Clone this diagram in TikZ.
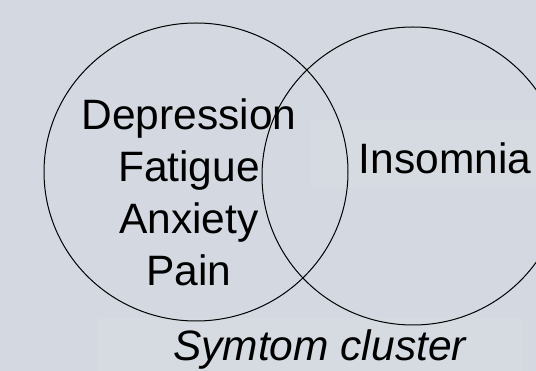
\documentclass[tikz,border=0pt]{standalone}
\usepackage{fontspec}
\setmainfont{Liberation Sans}
\definecolor{bgcol}{HTML}{D3D8E1}
\definecolor{boxcol}{HTML}{D6DAE1}
\begin{document}
\begin{tikzpicture}[x=1pt,y=-1pt,
  lbl/.style={anchor=base, inner sep=0pt, font=\fontsize{42.5}{52}\selectfont, text=black},
  ring/.style={draw=black, line width=1pt},
  panel/.style={fill=boxcol, draw=none}]
\fill[bgcol] (0,0) rectangle (536,371);
\useasboundingbox (0,0) rectangle (536,371);
\fill[panel] (311,120) rectangle (536,188);
\fill[panel] (97,318) rectangle (522,371);
\draw[ring] (196,172) ellipse [x radius=152, y radius=149];
\draw[ring] (413,176) ellipse [x radius=151, y radius=149];
\node[lbl] (dep) at (189,130) {Depression};
\node[lbl] (fat) at (189,182) {Fatigue};
\node[lbl] (anx) at (189,234) {Anxiety};
\node[lbl] (pain) at (189,286) {Pain};
\node[lbl] (ins) at (445,174) {Insomnia};
\node[lbl, font=\fontsize{42.5}{52}\selectfont\itshape] (cap) at (319.5,361) {Symtom cluster};
\end{tikzpicture}
\end{document}
